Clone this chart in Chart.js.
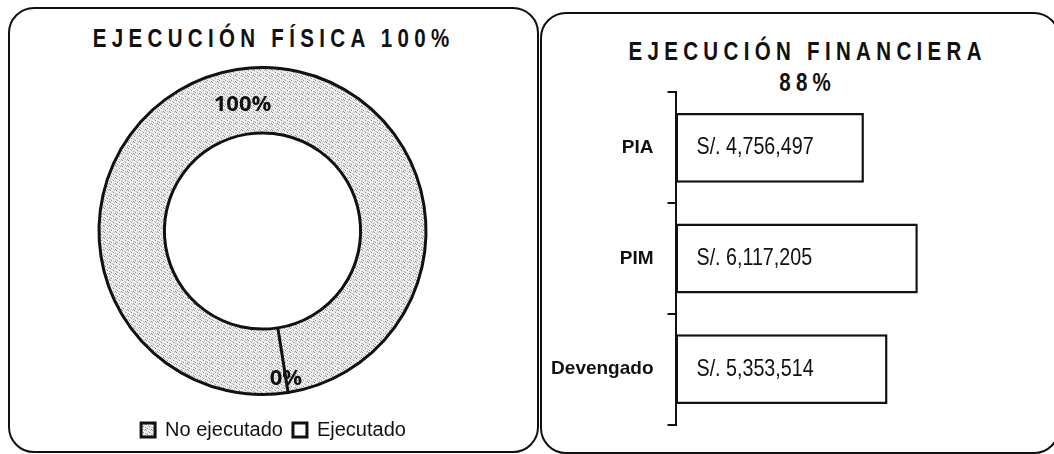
<!DOCTYPE html>
<html>
<head>
<meta charset="utf-8">
<script src="https://cdn.jsdelivr.net/npm/chart.js@4.4.1/dist/chart.umd.min.js"></script>
<style>
  body { margin: 0; background: #fff; width: 1054px; height: 454px; overflow: hidden; position: relative; }
  .panel { position: absolute; border: 2px solid #111; border-radius: 26px; box-sizing: border-box; }
  #panelFisica { left: 8px; top: 7px; width: 531px; height: 446px; }
  #panelFinanciera { left: 540px; top: 12px; width: 520px; height: 442px; }
  /* no hay Arial Narrow: se angosta la letra con scaleX */
  .titulo { position: absolute; text-align: center; font-family: "Liberation Sans", Arial, sans-serif;
            font-weight: bold; font-size: 25px; letter-spacing: 6.5px; padding-left: 6.5px; box-sizing: border-box;
            color: #111; white-space: nowrap; transform: scaleX(0.82); transform-origin: center; }
  #tituloFisica { left: 8px; width: 526px; top: 26px; line-height: 25px; }
  #tituloFinanciera { left: 541px; width: 528px; top: 36px; line-height: 31px; }
  canvas { position: absolute; }
  #graficoFisica { left: 8px; top: 58px; }
  #graficoFinanciera { left: 541px; top: 67px; }
</style>
</head>
<body>
<div class="panel" id="panelFisica"></div>
<div class="panel" id="panelFinanciera"></div>
<div class="titulo" id="tituloFisica">EJECUCIÓN FÍSICA 100%</div>
<div class="titulo" id="tituloFinanciera">EJECUCIÓN FINANCIERA<br>88%</div>
<canvas id="graficoFisica" width="531" height="394"></canvas>
<canvas id="graficoFinanciera" width="511" height="383"></canvas>

<script>
// datos
const estados = ['No ejecutado', 'Ejecutado'];
const avanceFisico = [100, 0];

const rubros = ['PIA', 'PIM', 'Devengado'];
const montos = [4756497, 6117205, 5353514];

const sans = '"Liberation Sans", Arial, sans-serif';

// textura punteada para la parte gris del anillo
function crearTrama() {
    const c = document.createElement('canvas');
    c.width = 6;
    c.height = 6;
    const g = c.getContext('2d');
    g.fillStyle = '#efefef';
    g.fillRect(0, 0, 6, 6);
    g.fillStyle = '#8c8c8c';
    [[0, 0], [3, 2], [1, 4], [5, 5]].forEach(p => g.fillRect(p[0], p[1], 1, 1));
    g.fillStyle = '#bdbdbd';
    [[4, 0], [2, 1], [5, 3], [0, 3], [3, 5]].forEach(p => g.fillRect(p[0], p[1], 1, 1));
    return g.createPattern(c, 'repeat');
}
const trama = crearTrama();

// porcentajes sobre el anillo
const etiquetasAnillo = {
    id: 'etiquetasAnillo',
    afterDatasetsDraw(chart) {
        const ctx = chart.ctx;
        const total = avanceFisico.reduce((a, b) => a + b, 0);
        const pos = [0.45, 0.78];
        ctx.save();
        ctx.font = 'bold 22px "Open Sans", sans-serif';
        ctx.fillStyle = '#111';
        ctx.textAlign = 'center';
        ctx.textBaseline = 'middle';
        chart.getDatasetMeta(0).data.forEach((arc, i) => {
            const p = arc.getProps(['x', 'y', 'startAngle', 'endAngle', 'innerRadius', 'outerRadius']);
            const mid = (p.startAngle + p.endAngle) / 2;
            const r = p.innerRadius + (p.outerRadius - p.innerRadius) * pos[i];
            const txt = Math.round(avanceFisico[i] / total * 100) + '%';
            ctx.fillText(txt, p.x + Math.cos(mid) * r, p.y + Math.sin(mid) * r);
        });
        ctx.restore();
    }
};

// la leyenda va centrada en el panel, el anillo un poco a la izquierda
const moverLeyenda = {
    id: 'moverLeyenda',
    afterLayout(chart) {
        const l = chart.legend;
        l.left += 11;
        l.right += 11;
        l.top += 14;
        l.bottom += 14;
    }
};

new Chart(document.getElementById('graficoFisica'), {
    type: 'doughnut',
    data: {
        labels: estados,
        datasets: [{
            data: avanceFisico,
            backgroundColor: [trama, '#ffffff'],
            borderColor: '#111',
            borderWidth: 3
        }]
    },
    options: {
        responsive: false,
        animation: false,
        events: [],
        cutout: '60%',
        rotation: 171,
        layout: { padding: { top: 8, right: 22, left: 0, bottom: 16 } },
        plugins: {
            legend: {
                position: 'bottom',
                labels: {
                    color: '#111',
                    font: { family: sans, size: 20 },
                    boxWidth: 14,
                    boxHeight: 14,
                    padding: 10
                }
            },
            tooltip: { enabled: false }
        }
    },
    plugins: [etiquetasAnillo, moverLeyenda]
});

// montos dentro de cada barra (letra angostada)
const etiquetasBarras = {
    id: 'etiquetasBarras',
    afterDatasetsDraw(chart) {
        const ctx = chart.ctx;
        chart.getDatasetMeta(0).data.forEach((bar, i) => {
            ctx.save();
            ctx.font = '24px ' + sans;
            ctx.fillStyle = '#111';
            ctx.textAlign = 'left';
            ctx.textBaseline = 'middle';
            ctx.translate(bar.base + 21, bar.y);
            ctx.scale(0.82, 1);
            ctx.fillText('S/. ' + montos[i].toLocaleString('en-US'), 0, 0);
            ctx.restore();
        });
    }
};

new Chart(document.getElementById('graficoFinanciera'), {
    type: 'bar',
    data: {
        labels: rubros,
        datasets: [{
            data: montos,
            backgroundColor: '#ffffff',
            borderColor: '#111',
            borderWidth: 2.5,
            borderSkipped: false,
            barPercentage: 0.7,
            categoryPercentage: 0.9
        }]
    },
    options: {
        indexAxis: 'y',
        responsive: false,
        animation: false,
        events: [],
        layout: { padding: { top: 0, right: 20, left: 0, bottom: 0 } },
        scales: {
            x: { display: false, min: 0, max: 9000000 },
            y: {
                afterFit(scale) { scale.width = 134.5; },
                grid: { offset: true, drawOnChartArea: false, drawTicks: true, tickLength: 8, color: '#111', lineWidth: 2 },
                border: { display: true, color: '#111', width: 2 },
                ticks: { color: '#111', padding: 14, font: { family: sans, size: 19, weight: 'bold' } }
            }
        },
        plugins: {
            legend: { display: false },
            tooltip: { enabled: false }
        }
    },
    plugins: [etiquetasBarras]
});
</script>
</body>
</html>
